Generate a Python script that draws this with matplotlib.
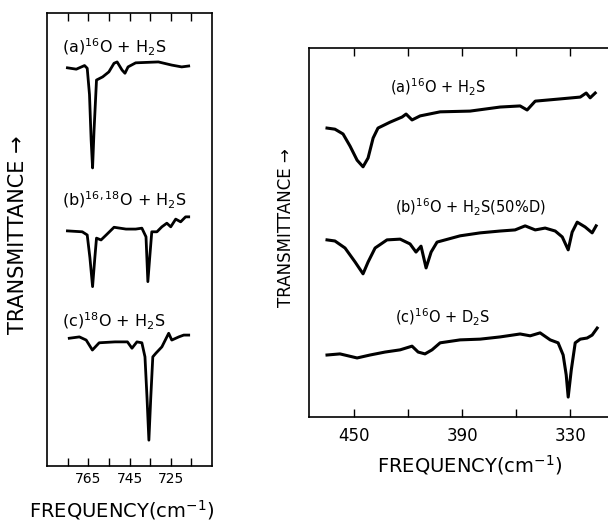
import numpy as np
import matplotlib.pyplot as plt
from matplotlib.ticker import FixedLocator, NullFormatter

# ---- left panel: 16O / 18O isotopes, 705-785 cm-1 ----
left_a_freq = [775.1, 770.8, 766.8, 765.5, 764.4, 763.6, 762.9, 762.2, 761.0, 758.0, 755.0,
               752.5, 751.0, 748.6, 747.2, 745.7, 742.0, 731.0, 724.5, 719.7, 716.3]
left_a_trans = [87.9, 87.6, 88.4, 87.8, 82.0, 72.0, 65.8, 74.0, 85.2, 85.9, 87.0,
                88.9, 89.2, 87.4, 86.7, 88.1, 89.0, 89.2, 88.5, 88.1, 88.3]

left_b_freq = [775.1, 767.9, 765.5, 764.2, 762.9, 761.8, 761.0, 758.8, 756.3, 752.5, 746.7,
               742.0, 739.0, 737.0, 736.1, 735.2, 734.2, 731.7, 729.3, 726.9, 725.0,
               722.6, 720.2, 717.8, 716.3]
left_b_trans = [51.9, 51.7, 51.0, 46.0, 39.6, 46.0, 50.3, 49.9, 51.0, 52.7, 52.3,
                52.3, 52.5, 50.6, 40.7, 46.0, 51.7, 51.7, 52.8, 53.6, 52.8,
                54.5, 53.9, 55.0, 55.0]

left_c_freq = [774.2, 769.3, 766.0, 763.0, 759.7, 752.0, 746.0, 743.8, 741.4, 739.0,
               737.5, 736.5, 735.6, 734.7, 733.7, 732.2, 729.3, 726.0, 724.5, 721.1,
               718.7, 716.3]
left_c_trans = [28.2, 28.5, 27.8, 25.6, 27.2, 27.4, 27.4, 26.0, 27.4, 27.2,
                24.1, 15.0, 5.7, 15.0, 24.1, 24.9, 26.3, 29.3, 27.8, 28.5,
                28.9, 28.9]

left_ticks_major = [765, 745, 725]
left_ticks_minor = [775, 755, 735, 715]
left_labels = [r'(a)$^{16}$O + H$_2$S', r'(b)$^{16,18}$O + H$_2$S', r'(c)$^{18}$O + H$_2$S']
left_label_y = [92.5, 58.7, 31.9]

# ---- right panel: H2S / D2S, 309-475 cm-1 ----
right_a_freq = [465.0, 460.6, 456.1, 452.2, 448.3, 445.0, 442.2, 439.4, 436.7, 430.0,
                423.3, 421.1, 417.8, 413.3, 402.2, 385.6, 368.9, 357.8, 353.9, 349.4,
                335.6, 324.4, 321.1, 318.9, 316.1]
right_a_trans = [78.3, 78.0, 76.7, 73.4, 69.6, 67.8, 70.2, 75.6, 78.3, 79.9,
                 81.3, 82.1, 80.5, 81.6, 82.7, 82.9, 84.0, 84.3, 83.2, 85.6,
                 86.2, 86.7, 87.8, 86.5, 87.8]

right_b_freq = [465.0, 460.6, 455.0, 449.4, 445.0, 442.2, 438.3, 431.7, 424.4, 418.9,
                415.6, 412.8, 410.0, 407.2, 403.9, 391.1, 380.0, 368.9, 360.6, 355.0,
                349.4, 343.9, 338.3, 334.4, 331.1, 328.9, 326.1, 321.7, 317.8, 315.6]
right_b_trans = [48.0, 47.7, 45.8, 42.0, 38.8, 42.0, 45.8, 48.0, 48.2, 46.9,
                 44.7, 46.3, 40.4, 44.7, 47.4, 49.1, 49.9, 50.4, 50.7, 51.8,
                 50.7, 51.2, 50.4, 48.8, 45.3, 50.1, 52.8, 51.5, 49.9, 51.8]

right_c_freq = [465.0, 457.8, 448.3, 441.1, 432.8, 424.4, 417.8, 414.4, 410.6, 406.7,
                402.2, 391.1, 380.0, 368.9, 357.8, 352.2, 346.7, 341.1, 336.7, 333.9,
                332.2, 331.1, 329.4, 327.2, 324.4, 320.6, 317.8, 315.0]
right_c_trans = [16.8, 17.1, 16.0, 16.8, 17.6, 18.2, 19.2, 17.6, 17.1, 18.2,
                 20.1, 20.9, 21.1, 21.7, 22.5, 22.0, 22.8, 20.9, 20.1, 16.8,
                 11.4, 5.4, 12.7, 20.1, 21.1, 21.4, 22.2, 24.1]

right_ticks_major = [450, 390, 330]
right_ticks_minor = [420, 360]
right_labels = [r'(a)$^{16}$O + H$_2$S', r'(b)$^{16}$O + H$_2$S(50%D)', r'(c)$^{16}$O + D$_2$S']
right_label_x = [430.0, 427.2, 427.2]
right_label_y = [89.2, 56.9, 27.1]

fig = plt.figure(figsize=(6.08, 5.24), dpi=100)

# left panel
ax1 = fig.add_axes([47 / 608, 1 - 466 / 524, 165 / 608, 453 / 524])
for f, t in [(left_a_freq, left_a_trans), (left_b_freq, left_b_trans), (left_c_freq, left_c_trans)]:
    ax1.plot(f, t, color='black', lw=2.0, solid_joinstyle='round')
for lab, y in zip(left_labels, left_label_y):
    ax1.text(777.5, y, lab, fontsize=11.5, va='center', ha='left')
ax1.set_xlim(785, 705)
ax1.set_ylim(0, 100)
ax1.xaxis.set_major_locator(FixedLocator(left_ticks_major))
ax1.xaxis.set_minor_locator(FixedLocator(left_ticks_minor))
ax1.xaxis.set_minor_formatter(NullFormatter())
ax1.set_yticks([])
ax1.tick_params(axis='x', which='both', direction='in', top=True, length=6, width=1,
                labelsize=10, pad=4)

# right panel
ax2 = fig.add_axes([309 / 608, 1 - 417 / 524, 299 / 608, 369 / 524])
for f, t in [(right_a_freq, right_a_trans), (right_b_freq, right_b_trans), (right_c_freq, right_c_trans)]:
    ax2.plot(f, t, color='black', lw=2.2, solid_joinstyle='round')
for lab, x, y in zip(right_labels, right_label_x, right_label_y):
    ax2.text(x, y, lab, fontsize=10.5, va='center', ha='left')
ax2.set_xlim(475, 309)
ax2.set_ylim(0, 100)
ax2.spines['right'].set_visible(False)
ax2.xaxis.set_major_locator(FixedLocator(right_ticks_major))
ax2.xaxis.set_minor_locator(FixedLocator(right_ticks_minor))
ax2.xaxis.set_minor_formatter(NullFormatter())
ax2.set_yticks([])
ax2.tick_params(axis='x', which='both', direction='in', top=True, length=6, width=1,
                labelsize=12, pad=7)

for ax in (ax1, ax2):
    for s in ax.spines.values():
        s.set_linewidth(1.2)

# axis titles placed in figure pixels
fig.text(18 / 608, 1 - 235 / 524, 'TRANSMITTANCE \u2192', rotation=90, ha='center', va='center',
         fontsize=15)
fig.text(286 / 608, 1 - 228 / 524, 'TRANSMITTANCE \u2192', rotation=90, ha='center', va='center',
         fontsize=12)
fig.text(122 / 608, 1 - 510 / 524, 'FREQUENCY(cm$^{-1}$)', ha='center', va='center', fontsize=14)
fig.text(470 / 608, 1 - 465 / 524, 'FREQUENCY(cm$^{-1}$)', ha='center', va='center', fontsize=14)

fig.savefig('out.png', dpi=100)
